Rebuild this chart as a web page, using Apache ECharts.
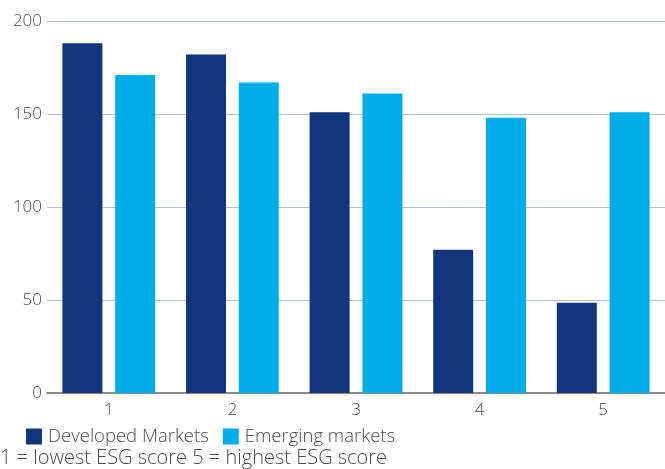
<!DOCTYPE html>
<html><head><meta charset="utf-8">
<script src="https://cdn.jsdelivr.net/npm/echarts@6/dist/echarts.min.js"></script>
<style>html,body{margin:0;padding:0;background:#fff}#c{width:665px;height:469px}</style>
</head><body><div id="c"></div>
<script>
const categories = ['1','2','3','4','5'];
const developed = [188, 182, 151, 77, 48.5];
const emerging = [171, 167, 161, 148, 151];
const yTicks = [0, 50, 100, 150, 200];
const footnote = '1 = lowest ESG score 5 = highest ESG score';

const font = '"Open Sans"';
const txt = {fontFamily: font, fontSize: 17, fontWeight: 300, color: '#4a4a4a'};
const big = Object.assign({}, txt, {fontSize: 18.5});
const chart = echarts.init(document.getElementById('c'));
chart.setOption({
  animation: false,
  backgroundColor: '#fff',
  title: {
    text: footnote, left: 0, top: 448, padding: 0,
    textStyle: Object.assign({}, txt, {fontSize: 20})
  },
  legend: {
    left: 26, top: 427, padding: 0, itemWidth: 16, itemHeight: 16, itemGap: 14,
    icon: 'rect',
    textStyle: Object.assign({}, big, {padding: [0,0,0,1]}),
    data: ['Developed Markets', 'Emerging markets']
  },
  grid: {left: 47, right: -3, top: 21, bottom: 76, containLabel: false},
  xAxis: {
    type: 'category', data: categories,
    axisLine: {lineStyle: {color: '#8a8a8a', width: 2}},
    axisTick: {show: false},
    axisLabel: Object.assign({}, txt, {margin: 9})
  },
  yAxis: {
    type: 'value', min: yTicks[0], max: yTicks[yTicks.length-1], interval: 50,
    axisLine: {show: false}, axisTick: {show: false},
    splitLine: {lineStyle: {color: '#b6c3cc', width: 1}},
    axisLabel: Object.assign({}, txt, {margin: 5})
  },
  series: [
    {name: 'Developed Markets', type: 'bar', data: developed, barWidth: 40, barGap: '32%', itemStyle: {color: '#12357b'}},
    {name: 'Emerging markets', type: 'bar', data: emerging, barWidth: 40, itemStyle: {color: '#00ade8'}}
  ]
});
</script></body></html>
